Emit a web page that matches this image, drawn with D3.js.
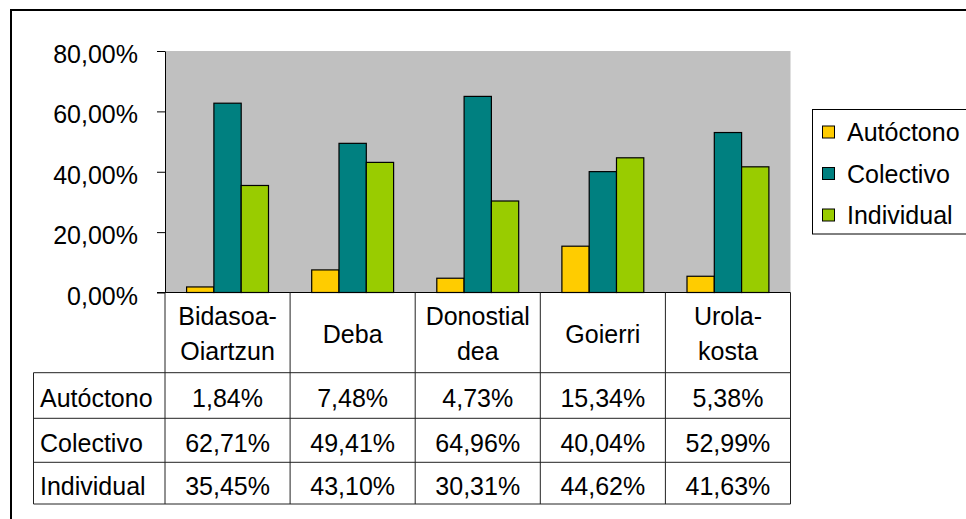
<!DOCTYPE html>
<html>
<head>
<meta charset="utf-8">
<script src="https://cdn.jsdelivr.net/npm/d3@7"></script>
<style>
  body { margin: 0; background: #fff; }
  svg text { font-family: "Liberation Sans", Arial, sans-serif; font-size: 25px; fill: #000; }
</style>
</head>
<body>
<svg width="966" height="519"></svg>
<script>
var categories = ["Bidasoa-\nOiartzun", "Deba", "Donostial\ndea", "Goierri", "Urola-\nkosta"];
var series = ["Autóctono", "Colectivo", "Individual"];
var autoctono = [1.84, 7.48, 4.73, 15.34, 5.38];
var colectivo = [62.71, 49.41, 64.96, 40.04, 52.99];
var individual = [35.45, 43.10, 30.31, 44.62, 41.63];
var yTicks = [0, 20, 40, 60, 80];
var colors = ["#FFCC00", "#008080", "#99CC00"];

var values = [autoctono, colectivo, individual];

var locale = d3.formatLocale({decimal: ",", thousands: ".", grouping: [3], currency: ["", " €"]});
var pct = function (v) { return locale.format(".2f")(v) + "%"; };

var svg = d3.select("svg");

// outer chart frame (runs off the right and bottom edges)
svg.append("rect")
    .attr("x", 11).attr("y", 10)
    .attr("width", 1000).attr("height", 600)
    .attr("fill", "#fff").attr("stroke", "#000").attr("stroke-width", 2);

var x = d3.scaleBand().domain(categories).range([165, 790.5]).padding(0);
var gap = 21.6;
var xs = d3.scaleBand().domain(series).range([gap, x.bandwidth() - gap]).padding(0);
var y = d3.scaleLinear().domain([0, 80]).range([292.5, 51]);

// plot area
svg.append("rect")
    .attr("x", x.range()[0]).attr("y", y(80))
    .attr("width", x.range()[1] - x.range()[0]).attr("height", y(0) - y(80))
    .attr("fill", "#C0C0C0");

// bars
var group = svg.append("g").selectAll("g")
    .data(categories)
    .enter().append("g")
    .attr("transform", function (d) { return "translate(" + x(d) + ",0)"; });

group.selectAll("rect")
    .data(function (d, i) {
        return series.map(function (s, j) { return {s: s, v: values[j][i], c: colors[j]}; });
    })
    .enter().append("rect")
    .attr("x", function (d) { return xs(d.s); })
    .attr("width", xs.bandwidth())
    .attr("y", function (d) { return y(d.v); })
    .attr("height", function (d) { return y(0) - y(d.v); })
    .attr("fill", function (d) { return d.c; })
    .attr("stroke", "#000").attr("stroke-width", 1.2);

// y axis
var yAxis = d3.axisLeft(y)
    .tickValues(yTicks)
    .tickSize(8)
    .tickSizeOuter(0)
    .tickPadding(19)
    .tickFormat(function (d) { return pct(d); });

var ga = svg.append("g").attr("transform", "translate(165,0)").call(yAxis);
ga.select(".domain").attr("stroke", "#000");
ga.selectAll(".tick line").attr("stroke", "#000");
ga.selectAll(".tick text")
    .attr("font-family", null).attr("font-size", null)
    .attr("dy", "0.46em");

// data table
var rowTops = [372.7, 418.3, 462.3, 504];
var lineColor = "#222";
var table = svg.append("g");

// zero line / top of header row
table.append("line")
    .attr("x1", 157).attr("x2", x.range()[1])
    .attr("y1", y(0)).attr("y2", y(0))
    .attr("stroke", "#000");

// horizontal row lines
rowTops.forEach(function (t) {
    table.append("line")
        .attr("x1", 33.5).attr("x2", x.range()[1])
        .attr("y1", t).attr("y2", t)
        .attr("stroke", lineColor);
});

// vertical lines
var edges = categories.map(function (c) { return x(c); }).concat([x.range()[1]]);
edges.forEach(function (e) {
    table.append("line")
        .attr("x1", e).attr("x2", e)
        .attr("y1", y(0)).attr("y2", rowTops[3])
        .attr("stroke", lineColor);
});
table.append("line")
    .attr("x1", 33.5).attr("x2", 33.5)
    .attr("y1", rowTops[0]).attr("y2", rowTops[3])
    .attr("stroke", lineColor);

// category headers
categories.forEach(function (c) {
    var lines = c.split("\n");
    var cx = x(c) + x.bandwidth() / 2;
    lines.forEach(function (l, i) {
        table.append("text")
            .attr("x", cx)
            .attr("y", 342.5 + (i - (lines.length - 1) / 2) * 35)
            .attr("text-anchor", "middle")
            .text(l);
    });
});

// rows
series.forEach(function (s, j) {
    var cy = (rowTops[j] + rowTops[j + 1]) / 2 + 11.5;
    table.append("text").attr("x", 40).attr("y", cy).text(s);
    categories.forEach(function (c, i) {
        table.append("text")
            .attr("x", x(c) + x.bandwidth() / 2)
            .attr("y", cy)
            .attr("text-anchor", "middle")
            .text(pct(values[j][i]));
    });
});

// legend
var legend = svg.append("g");
legend.append("rect")
    .attr("x", 812.5).attr("y", 109.5)
    .attr("width", 200).attr("height", 124.5)
    .attr("fill", "#fff").attr("stroke", "#000");

var legendY = [132, 173.5, 215];
series.forEach(function (s, j) {
    legend.append("rect")
        .attr("x", 822.5).attr("y", legendY[j] - 6)
        .attr("width", 12).attr("height", 12)
        .attr("fill", colors[j]).attr("stroke", "#000");
    legend.append("text")
        .attr("x", 847).attr("y", legendY[j] + 9)
        .text(s);
});
</script>
</body>
</html>
